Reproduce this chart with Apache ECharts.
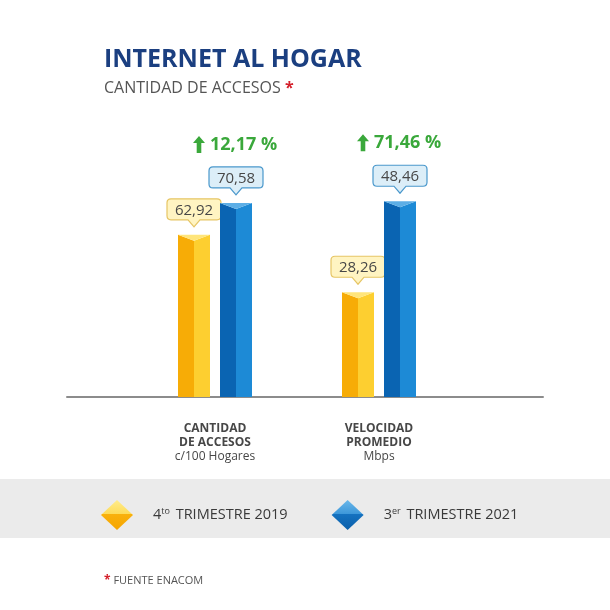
<!DOCTYPE html>
<html>
<head>
<meta charset="utf-8">
<script src="https://cdn.jsdelivr.net/npm/echarts@6/dist/echarts.min.js"></script>
<style>
  html, body { margin: 0; padding: 0; background: #fff; }
  #main { width: 610px; height: 610px; }
</style>
</head>
<body>
<div id="main"></div>
<script>
// datos
const categories = ['CANTIDAD\nDE ACCESOS', 'VELOCIDAD\nPROMEDIO'];
const units = ['c/100 Hogares', 'Mbps'];
const periods = ['4to TRIMESTRE 2019', '3er TRIMESTRE 2021'];
const q4_2019 = [62.92, 28.26];
const q3_2021 = [70.58, 48.46];
const growth = [12.17, 71.46];

const FONT = '"Open Sans", "DejaVu Sans", sans-serif';

const fmt = v => v.toFixed(2).replace('.', ',');

const palette = [
    {left: '#F7AC06', right: '#FDCF30', top: '#FFE57A', box: '#FFF4C2', border: '#E6C564'},
    {left: '#0A64B2', right: '#1D8AD6', top: '#5CAEE6', box: '#DCEEF8', border: '#4A98CC'}
];

// una barra tipo prisma con su globito
function makeRender(p, offset, withGrowth) {
    const c = palette[p];
    return function (params, api) {
        const g = api.value(0);
        const v = api.value(1);
        const pt = api.coord([g, v]);
        const cs = params.coordSys;
        const bottom = cs.y + cs.height;
        const cx = pt[0] + offset;
        const x0 = cx - 16, x1 = cx + 16;
        const t = pt[1], d = 6;

        const children = [
            {type: 'polygon', shape: {points: [[x0, t], [cx, t + d], [cx, bottom], [x0, bottom]]}, style: {fill: c.left}},
            {type: 'polygon', shape: {points: [[cx, t + d], [x1, t], [x1, bottom], [cx, bottom]]}, style: {fill: c.right}},
            {type: 'polygon', shape: {points: [[x0, t], [x1, t], [cx, t + d]]}, style: {fill: c.top}}
        ];

        // globito
        const bw = 54, bh = 21, r = 4;
        const tip = t - 8, yb = t - 15, yt = yb - bh;
        const xl = cx - bw / 2, xr = cx + bw / 2;
        const path = 'M' + (xl + r) + ',' + yt + ' L' + (xr - r) + ',' + yt +
            ' Q' + xr + ',' + yt + ' ' + xr + ',' + (yt + r) +
            ' L' + xr + ',' + (yb - r) + ' Q' + xr + ',' + yb + ' ' + (xr - r) + ',' + yb +
            ' L' + (cx + 6) + ',' + yb + ' L' + cx + ',' + tip + ' L' + (cx - 6) + ',' + yb +
            ' L' + (xl + r) + ',' + yb + ' Q' + xl + ',' + yb + ' ' + xl + ',' + (yb - r) +
            ' L' + xl + ',' + (yt + r) + ' Q' + xl + ',' + yt + ' ' + (xl + r) + ',' + yt + ' Z';
        children.push({type: 'path', shape: {pathData: path}, style: {fill: c.box, stroke: c.border, lineWidth: 1.2}});
        children.push({
            type: 'text',
            style: {
                x: cx, y: (yt + yb) / 2 + 1, text: fmt(v), align: 'center', verticalAlign: 'middle',
                fill: '#474747', font: '15px ' + FONT
            }
        });

        if (withGrowth) {
            const ay = t - 58, ax = cx - 37;
            children.push({
                type: 'polygon',
                shape: {points: [[ax, ay - 9], [ax + 6, ay - 2], [ax + 2.3, ay - 2], [ax + 2.3, ay + 8],
                    [ax - 2.3, ay + 8], [ax - 2.3, ay - 2], [ax - 6, ay - 2]]},
                style: {fill: '#3AA83B'}
            });
            children.push({
                type: 'text',
                style: {
                    x: cx - 26, y: ay, text: fmt(growth[g]) + ' %', align: 'left', verticalAlign: 'middle',
                    fill: '#3AA83B', font: 'bold 18px ' + FONT
                }
            });
        }
        return {type: 'group', children: children};
    };
}

const values = [q4_2019, q3_2021];
const series = [];
categories.forEach((cat, g) => {
    periods.forEach((name, p) => {
        series.push({
            type: 'custom',
            name: name,
            xAxisIndex: 0,
            yAxisIndex: g,
            renderItem: makeRender(p, p === 0 ? -21 : 21, p === 1),
            data: [[g, values[p][g]]],
            itemStyle: {color: palette[p].left},
            z: 3
        });
    });
});

const diamond = 'path://M16,0 L32,15 L16,30 L0,15 Z';
const legendColors = [
    {type: 'linear', x: 0, y: 0, x2: 0, y2: 1, colorStops: [
        {offset: 0, color: '#FFEC8C'}, {offset: 0.45, color: '#FDDC5A'},
        {offset: 0.46, color: '#F9B10C'}, {offset: 1, color: '#F5A500'}]},
    {type: 'linear', x: 0, y: 0, x2: 0, y2: 1, colorStops: [
        {offset: 0, color: '#6BB8EA'}, {offset: 0.45, color: '#3E98DA'},
        {offset: 0.46, color: '#1572C0'}, {offset: 1, color: '#0A5FAA'}]}
];

const chart = echarts.init(document.getElementById('main'));
chart.setOption({
    animation: false,
    backgroundColor: '#ffffff',
    title: {
        text: 'INTERNET AL HOGAR',
        subtext: 'CANTIDAD DE ACCESOS {r|*}',
        left: 104,
        top: 47,
        padding: 0,
        itemGap: 8,
        textStyle: {fontFamily: FONT, fontSize: 25, fontWeight: 'bold', color: '#1B3F80'},
        subtextStyle: {
            fontFamily: FONT, fontSize: 16, color: '#555555',
            rich: {r: {fontFamily: FONT, fontSize: 16, fontWeight: 'bold', color: '#D4212C'}}
        }
    },
    legend: {
        left: 101,
        top: 500,
        padding: 0,
        itemWidth: 32,
        itemHeight: 30,
        itemGap: 44,
        data: periods.map((p, i) => ({name: p, icon: diamond, itemStyle: {color: legendColors[i]}})),
        formatter: name => name.replace(/^(\d)([a-z]+)/, '$1{s|$2}'),
        textStyle: {
            fontFamily: FONT, fontSize: 14.5, color: '#3A3A3A', padding: [0, 0, 0, 15],
            rich: {s: {fontFamily: FONT, fontSize: 9, color: '#3A3A3A', padding: [0, 2, 8, 0]}}
        },
        selectedMode: false
    },
    grid: [
        {left: 133, right: 149, top: 197, bottom: 213},
        {left: 67, right: 67, top: 197, bottom: 213}
    ],
    xAxis: [
        {
            type: 'category', gridIndex: 0, data: categories,
            axisLine: {show: false}, axisTick: {show: false},
            axisLabel: {
                margin: 25,
                formatter: (value, index) =>
                    value.split('\n').map(s => '{b|' + s + '}').join('\n') + '\n{n|' + units[index] + '}',
                rich: {
                    b: {fontFamily: FONT, fontSize: 12, fontWeight: 'bold', color: '#474747', lineHeight: 14},
                    n: {fontFamily: FONT, fontSize: 12, color: '#474747', lineHeight: 14}
                }
            }
        },
        {
            type: 'value', gridIndex: 1, min: 0, max: 1,
            axisLine: {show: true, onZero: false, lineStyle: {color: '#8C8C8C', width: 2}},
            axisTick: {show: false}, axisLabel: {show: false}, splitLine: {show: false}
        }
    ],
    yAxis: [
        {type: 'value', gridIndex: 0, min: 24, max: 72, show: false},
        {type: 'value', gridIndex: 0, min: 5, max: 49.4, show: false},
        {type: 'value', gridIndex: 1, min: 0, max: 1, show: false}
    ],
    graphic: [
        {type: 'rect', left: 0, top: 479, z: -1, shape: {width: 610, height: 59}, style: {fill: '#EBEBEB'}},
        {
            type: 'text', left: 104, top: 575,
            style: {
                text: '{r|*} FUENTE ENACOM',
                rich: {
                    r: {fontFamily: FONT, fontSize: 12, fontWeight: 'bold', fill: '#D4212C'}
                },
                font: '11px ' + FONT, fill: '#555555'
            }
        }
    ],
    series: series
});
</script>
</body>
</html>
